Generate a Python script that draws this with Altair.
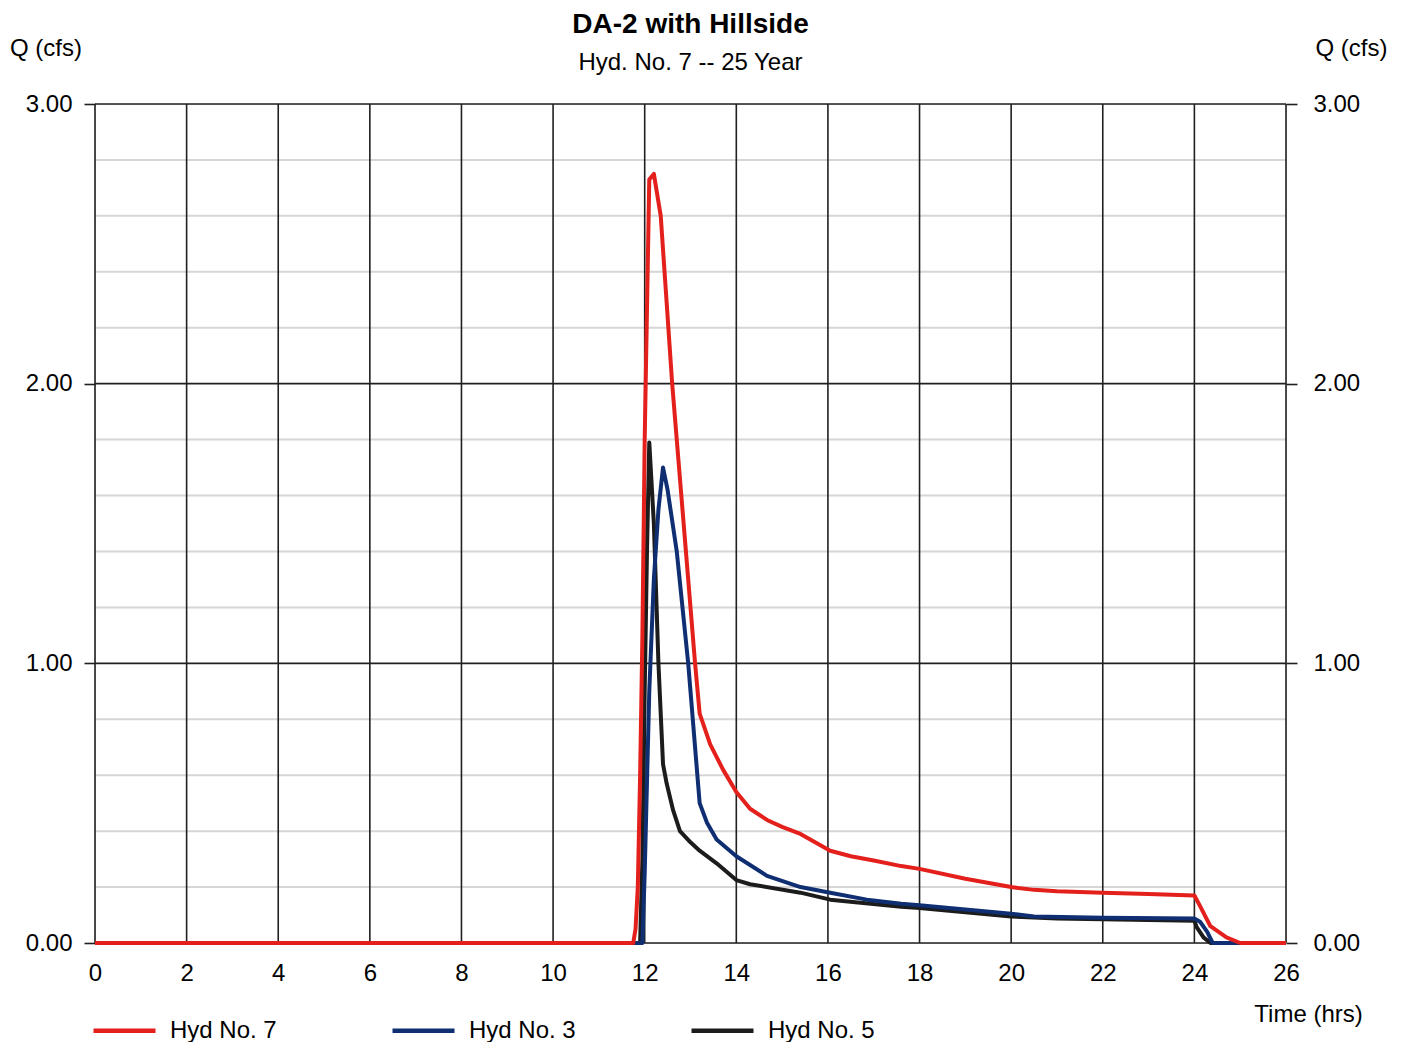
import altair as alt
import pandas as pd

# ---- data ----
series_names = ["Hyd No. 7", "Hyd No. 3", "Hyd No. 5"]
series_colors = ["#e3201c", "#0f2f72", "#1c1c1c"]

t7 = [0, 11.75, 11.8, 11.85, 11.9, 11.95, 12.0, 12.1, 12.2, 12.35,
      12.6, 12.9, 13.1, 13.2, 13.43, 13.71, 14.0, 14.3, 14.67, 15.0,
      15.4, 16.05, 16.5, 17.0, 17.6, 18.0, 19.0, 20.0, 20.5, 21.0,
      22.0, 23.0, 24.0, 24.13, 24.35, 24.7, 25.0, 26.0]
q7 = [0, 0, 0.05, 0.2, 0.6, 1.1, 1.8, 2.73, 2.75, 2.60,
      2.0, 1.4, 1.0, 0.82, 0.71, 0.62, 0.54, 0.48, 0.44, 0.415,
      0.39, 0.33, 0.31, 0.295, 0.275, 0.265, 0.23, 0.20, 0.19, 0.185,
      0.18, 0.175, 0.17, 0.13, 0.06, 0.02, 0, 0]

t3 = [0, 11.95, 12.0, 12.1, 12.2, 12.3, 12.4, 12.5, 12.7, 12.95,
      13.2, 13.36, 13.57, 14.0, 14.67, 15.4, 16.05, 16.85, 17.6, 18.0,
      19.0, 20.0, 20.5, 22.0, 24.0, 24.13, 24.28, 24.4, 26.0]
q3 = [0, 0, 0.25, 0.9, 1.3, 1.55, 1.70, 1.62, 1.40, 1.0,
      0.50, 0.43, 0.37, 0.31, 0.24, 0.20, 0.18, 0.155, 0.14, 0.135,
      0.12, 0.105, 0.095, 0.09, 0.088, 0.075, 0.04, 0, 0]

t5 = [0, 11.9, 11.95, 12.0, 12.05, 12.1, 12.2, 12.3, 12.4, 12.48,
      12.62, 12.77, 13.0, 13.2, 13.57, 14.0, 14.3, 15.4, 16.05, 17.6,
      18.0, 19.0, 20.0, 21.0, 22.0, 24.0, 24.05, 24.2, 24.35, 26.0]
q5 = [0, 0, 0.3, 0.9, 1.4, 1.79, 1.5, 1.0, 0.64, 0.57,
      0.475, 0.40, 0.36, 0.33, 0.285, 0.225, 0.21, 0.18, 0.155, 0.13,
      0.125, 0.11, 0.095, 0.088, 0.085, 0.08, 0.057, 0.02, 0, 0]

x_ticks = list(range(0, 27, 2))
y_major = [0, 1, 2, 3]
y_minor = [0.2, 0.4, 0.6, 0.8, 1.2, 1.4, 1.6, 1.8, 2.2, 2.4, 2.6, 2.8]

FONT = "Liberation Sans"
GRID = "#202020"

x_scale = alt.Scale(domain=[0, 26], nice=False, zero=False)
y_scale = alt.Scale(domain=[0, 3], nice=False, zero=False)
color_scale = alt.Scale(domain=series_names, range=series_colors)


def frame(t, q, name):
    return pd.DataFrame({"t": t, "q": q, "series": name})


legend = alt.Legend(
    title=None, orient="none", legendX=-4, legendY=893, direction="horizontal",
    symbolType="stroke", symbolSize=3844, symbolStrokeWidth=4.5,
    labelFont=FONT, labelFontSize=24, labelColor="black", labelOffset=12,
    columnPadding=106, symbolOpacity=1,
)

left_axis = alt.Axis(
    values=y_major, format=".2f", grid=False, domain=False,
    tickSize=11, tickColor=GRID, tickWidth=1.6,
    labelFont=FONT, labelFontSize=24, labelColor="black", labelPadding=12,
    title="Q (cfs)", titleAngle=0, titleX=-49.5, titleY=-56, titleAlign="center",
    titleBaseline="middle", titleFont=FONT, titleFontSize=24,
    titleFontWeight="normal", titleColor="black",
)
right_axis = alt.Axis(
    orient="right", values=y_major, format=".2f", grid=False, domain=False,
    tickSize=11, tickColor=GRID, tickWidth=1.6,
    labelFont=FONT, labelFontSize=24, labelColor="black", labelPadding=16,
    title="Q (cfs)", titleAngle=0, titleX=65, titleY=-56, titleAlign="center",
    titleBaseline="middle", titleFont=FONT, titleFontSize=24,
    titleFontWeight="normal", titleColor="black",
)
x_axis = alt.Axis(
    orient="bottom", values=x_ticks, grid=False, domain=False,
    tickSize=0, labelFont=FONT, labelFontSize=24, labelColor="black",
    labelPadding=18, labelFlush=False,
    title="Time (hrs)", titleX=1213, titleY=71, titleAlign="center",
    titleBaseline="middle", titleFont=FONT, titleFontSize=24,
    titleFontWeight="normal", titleColor="black",
)

minor = alt.Chart(pd.DataFrame({"v": y_minor})).mark_rule(
    color="#d6d6d6", strokeWidth=2
).encode(y=alt.Y("v:Q", scale=y_scale, axis=None))

major_h = alt.Chart(pd.DataFrame({"v": y_major})).mark_rule(
    color=GRID, strokeWidth=1.6
).encode(y=alt.Y("v:Q", scale=y_scale, axis=left_axis))

major_v = alt.Chart(pd.DataFrame({"v": x_ticks})).mark_rule(
    color=GRID, strokeWidth=1.6
).encode(x=alt.X("v:Q", scale=x_scale, axis=x_axis))


def line(df, yaxis=None):
    return alt.Chart(df).mark_line(strokeWidth=4, strokeJoin="round").encode(
        x=alt.X("t:Q", scale=x_scale, axis=x_axis),
        y=alt.Y("q:Q", scale=y_scale, axis=yaxis),
        color=alt.Color("series:N", scale=color_scale, legend=legend),
    )


black = line(frame(t5, q5, "Hyd No. 5"))
blue = line(frame(t3, q3, "Hyd No. 3"))
red = line(frame(t7, q7, "Hyd No. 7"), yaxis=right_axis)

chart = alt.layer(minor, major_h, major_v, black, blue, red).resolve_axis(
    y="independent"
).properties(
    width=1191, height=839,
    autosize=alt.AutoSizeParams(type="none"),
    padding={"left": 87, "top": 96, "right": 112, "bottom": 99},
    title=alt.TitleParams(
        "DA-2 with Hillside", subtitle="Hyd. No. 7 -- 25 Year",
        anchor="middle", font=FONT, fontSize=28,
        fontWeight="bold", color="black", subtitleFont=FONT,
        subtitleFontSize=24, subtitleColor="black", subtitlePadding=12,
        offset=-39,
    ),
).configure_view(stroke=None).configure(background="white")

chart.save("out.html", embed_options={"renderer": "svg", "actions": False})
